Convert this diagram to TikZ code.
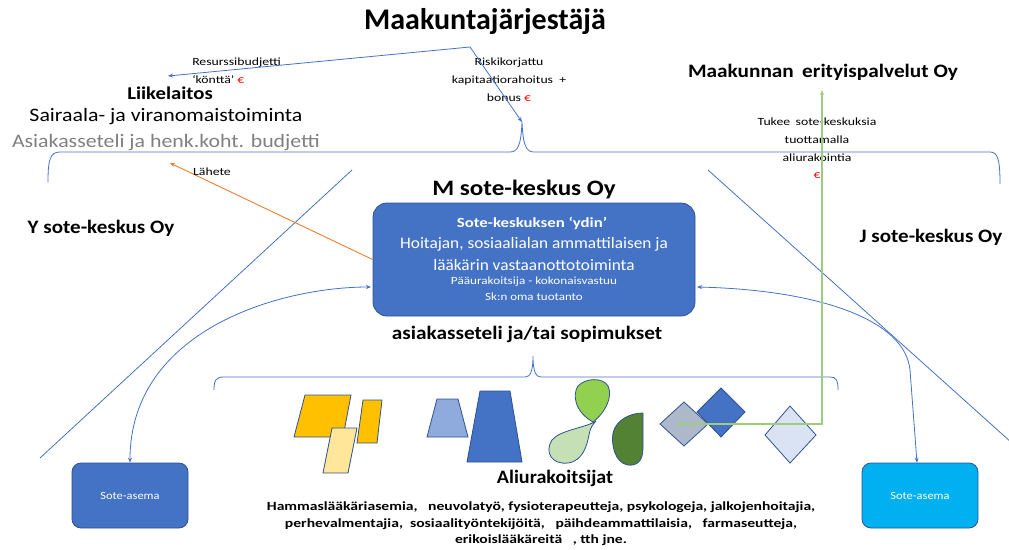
\documentclass[tikz,border=0pt]{standalone}
\usepackage{fontspec}
\setmainfont{Carlito}
\usetikzlibrary{arrows.meta}
\definecolor{lineblue}{HTML}{4472C4}
\definecolor{boxblue}{HTML}{4472C4}
\definecolor{boxedge}{HTML}{2F528F}
\definecolor{cyanbox}{HTML}{00B0F0}
\definecolor{refgreen}{HTML}{9ECB7C}
\definecolor{lahete}{HTML}{ED7D31}
\definecolor{eurored}{HTML}{FF0000}
\definecolor{grey}{HTML}{808080}
\newcommand{\euro}{{\color{eurored}€}}
\newcommand{\fs}[1]{\fontsize{#1}{#1}\selectfont}

\begin{document}
\begin{tikzpicture}[x=1pt,y=-1pt]
\tikzstyle{every node}+=[inner sep=0pt]
\tikzstyle{bluebox}=[rounded corners=14pt, fill=boxblue, draw=boxedge, line width=0.8pt]
\tikzstyle{conn}=[lineblue, line width=0.8pt]
\tikzstyle{shapeedge}=[draw=boxedge, line width=0.8pt]
\tikzstyle{wtext}=[xscale=1.15]
\tikzstyle{smalltext}=[xscale=1.25, align=center]
\useasboundingbox (0,0) rectangle (1009,549);
% top: organiser and funding
\node (title) at (485,22) {\fs{30}\bfseries Maakuntajärjestäjä};
\node (resurssi) at (192,71) [smalltext, align=left, anchor=west] {\fs{11}Resurssibudjetti\\[6pt]\fs{11}‘könttä’ \euro};
\node (liike) at (170,93) [wtext] {\fs{18}\bfseries Liikelaitos};
\node (sairaala) at (166,117) [wtext] {\fs{19}Sairaala- ja viranomaistoiminta};
\node (seteli) at (166,143) [wtext, text=grey] {\fs{19}Asiakasseteli ja henk.koht. budjetti};
\node (riski) at (509,80) [smalltext] {\fs{11}Riskikorjattu\\[6pt]\fs{11}kapitaatiorahoitus \ +\\[6pt]\fs{11}bonus \euro};
\node (erityis) at (823,72) [xscale=1.12] {\fs{19}\bfseries Maakunnan \,erityispalvelut Oy};
\node (tukee) at (817,148) [smalltext] {\fs{11}Tukee \,sote-keskuksia\\[6pt]\fs{11}tuottamalla\\[6pt]\fs{11}aliurakointia\\[5pt]\fs{11}\euro};
\coordinate (split) at (470,47);
\coordinate (liiketip) at (168,76);
\coordinate (bracetip) at (522,122);
\draw [conn, -{Stealth[length=5pt,width=4pt]}] (split) -- (liiketip);
\draw [conn, -{Stealth[length=5pt,width=4pt]}] (split) -- (bracetip);
% top brace
\draw [conn] (48,182) .. controls (48,160) and (50,152) .. (60,152) -- (510,152)
  .. controls (518,152) and (521,145) .. (bracetip)
  .. controls (523,145) and (526,152) .. (534,152) -- (990,152)
  .. controls (998,152) and (1000,160) .. (1000,184);
% the three sote-keskus companies
\node (ysote) at (101,228) [xscale=1.11] {\fs{19}\bfseries Y sote-keskus Oy};
\node (jsote) at (931,237) [xscale=1.11] {\fs{19}\bfseries J sote-keskus Oy};
\node (msote) at (524,190) [xscale=1.14] {\fs{22}\bfseries M sote-keskus Oy};
\draw [conn] (352,170) -- (40,458);
\draw [conn] (708,170) -- (1012,443);
\node (mbox) [bluebox, minimum width=322pt, minimum height=113pt] at (534,259.5) {};
\node (ydin) at (532,223) [xscale=1.2, text=white] {\fs{14}\bfseries Sote-keskuksen ‘ydin’};
\node (hoitajan) at (534,244) [xscale=1.08, text=white] {\fs{16}Hoitajan, sosiaalialan ammattilaisen ja};
\node (laakarin) at (534,265) [xscale=1.08, text=white] {\fs{16}lääkärin vastaanottotoiminta};
\node (paa) at (534,282) [xscale=1.2, text=white] {\fs{11}Pääurakoitsija - kokonaisvastuu};
\node (oma) at (534,297) [xscale=1.18, text=white] {\fs{11}Sk:n oma tuotanto};
\node (sopimus) at (527,334) [xscale=1.12] {\fs{19}\bfseries asiakasseteli ja/tai sopimukset};
% referral
\coordinate (lahetetip) at (170,163);
\draw [lahete, line width=0.9pt, -{Stealth[length=5pt,width=4pt]}] (mbox.west) -- (lahetetip);
\node (lahetelbl) at (212,172) [smalltext] {\fs{11}Lähete};
% sote-asema boxes
\node (seL) [bluebox, rounded corners=9pt, minimum width=116pt, minimum height=65pt] at (130,495.5) {};
\node at (seL) [xscale=1.13, text=white] {\fs{11}Sote-asema};
\node (seR) [bluebox, rounded corners=9pt, fill=cyanbox, minimum width=116pt, minimum height=65pt] at (920,495.5) {};
\node at (seR) [xscale=1.13, text=white] {\fs{11}Sote-asema};
\coordinate (mL) at (371,287);
\coordinate (mR) at (697,287);
\draw [conn, {Stealth[length=5pt,width=4pt]}-{Stealth[length=5pt,width=4pt]}] (seL.north) .. controls (130,330) and (280,287) .. (mL);
\draw [conn, {Stealth[length=5pt,width=4pt]}-{Stealth[length=5pt,width=4pt]}] (mR) .. controls (820,290) and (905,320) .. (910,370) -- ([xshift=-3pt]seR.north);
% lower brace
\draw [conn] (214,390) .. controls (214,380) and (216,377) .. (224,377) -- (525,377)
  .. controls (530,377) and (533,372) .. (533,356)
  .. controls (533,372) and (536,377) .. (541,377) -- (830,377)
  .. controls (836,377) and (838,380) .. (838,390);
% subcontractor pictures
\draw [shapeedge, fill={rgb,255:red,255;green,192;blue,0}] (305,395) -- (351,395) -- (343,437) -- (294,437) -- cycle;
\draw [shapeedge, fill={rgb,255:red,255;green,192;blue,0}] (363,400) -- (382,400) -- (377,443) -- (357,443) -- cycle;
\draw [shapeedge, fill={rgb,255:red,255;green,230;blue,153}] (332,428) -- (357,428) -- (348,473) -- (323,473) -- cycle;
\draw [shapeedge, fill={rgb,255:red,143;green,170;blue,220}] (437,399) -- (458,399) -- (468,437) -- (427,437) -- cycle;
\draw [shapeedge, fill=boxblue] (480,391) -- (510,391) -- (522,462) -- (467,462) -- cycle;
\draw [shapeedge, fill={rgb,255:red,146;green,208;blue,80}] (593,422) .. controls (575,412) and (572,395) .. (578,386) .. controls (585,378) and (603,377) .. (608,386) .. controls (613,396) and (606,412) .. (593,422);
\draw [shapeedge, fill={rgb,255:red,197;green,224;blue,180}] (596,421) .. controls (585,428) and (560,430) .. (552,440) .. controls (544,452) and (552,465) .. (568,463) .. controls (583,461) and (587,445) .. (589,435) .. controls (590,428) and (593,424) .. (596,421);
\draw [shapeedge, fill={rgb,255:red,84;green,130;blue,53}] (643,413) -- (643,448) .. controls (643,462) and (636,466) .. (628,465) .. controls (615,463) and (611,445) .. (613,433) .. controls (616,420) and (630,413) .. (643,413);
\draw [shapeedge, fill=boxblue] (721,388) -- (745,412) -- (721,437) -- (697,412) -- cycle;
\draw [shapeedge, fill={rgb,255:red,173;green,185;blue,202}] (684,402) -- (708,424) -- (684,446) -- (660,424) -- cycle;
\draw [shapeedge, fill={rgb,255:red,218;green,227;blue,243}] (790,406) -- (816,435) -- (790,463) -- (765,435) -- cycle;
% support by the special services
\coordinate (greentop) at (822,90);
\coordinate (greenleft) at (677,424);
\draw [refgreen, line width=1.8pt, {Stealth[length=5pt,width=4pt]}-{Stealth[length=5pt,width=4pt]}] (greenleft) -| (greentop);
\node (ali) at (555,478) [xscale=1.06] {\fs{19}\bfseries Aliurakoitsijat};
\node (lista) at (541,524) [smalltext] {\fs{12.5}\bfseries Hammaslääkäriasemia, \ \ neuvolatyö, fysioterapeutteja, psykologeja, jalkojenhoitajia,\\[4.5pt]
  \fs{12.5}\bfseries perhevalmentajia, \ sosiaalityöntekijöitä, \ \ päihdeammattilaisia, \ \ farmaseutteja,\\[4.5pt]
  \fs{12.5}\bfseries erikoislääkäreitä \ \ , tth jne.};
\end{tikzpicture}
\end{document}
